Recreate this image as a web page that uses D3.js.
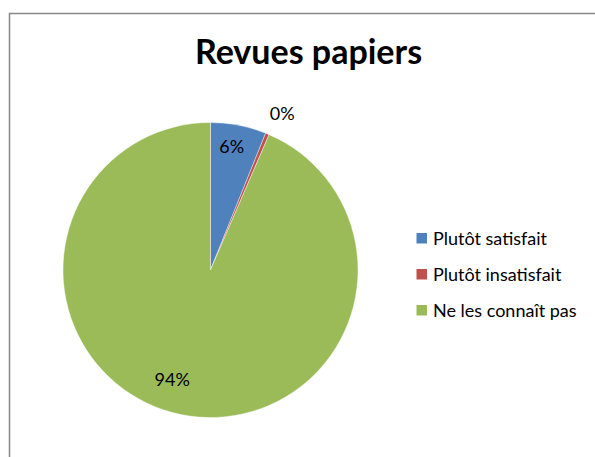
<!DOCTYPE html>
<html>
<head>
<meta charset="utf-8">
<script src="https://cdn.jsdelivr.net/npm/d3@7"></script>
<style>
  html, body { margin: 0; padding: 0; background: #fff; }
  svg { display: block; }
</style>
</head>
<body>
<svg id="chart" width="595" height="457"></svg>
<script>
// Survey answers for paper journals
const categories = ["Plutôt satisfait", "Plutôt insatisfait", "Ne les connaît pas"];
const shares = [6.1, 0.4, 93.5];
const colors = ["#4F81BD", "#C0504D", "#9BBB59"];
const title = "Revues papiers";

const svg = d3.select("#chart");
const W = 595, H = 457;
const fontFamily = "Lato, 'Open Sans', 'DejaVu Sans', sans-serif";

// Chart frame
svg.append("path")
  .attr("d", `M${W},13.5 H9.5 V${H}`)
  .attr("fill", "none")
  .attr("stroke", "#878787")
  .attr("stroke-width", 1.5);

// Title
svg.append("text")
  .attr("x", 308.5)
  .attr("y", 64)
  .attr("text-anchor", "middle")
  .attr("font-family", fontFamily)
  .attr("font-weight", "bold")
  .attr("font-size", 34)
  .attr("fill", "#000")
  .text(title);

// Pie
const cx = 210.5, cy = 270, r = 147.5;
const data = categories.map((c, i) => ({ name: c, value: shares[i], color: colors[i] }));
const total = d3.sum(shares);
const pie = d3.pie().value(d => d.value).sort(null);
const arcs = pie(data);
const arc = d3.arc().innerRadius(0).outerRadius(r);

const g = svg.append("g").attr("transform", `translate(${cx},${cy})`);
g.selectAll("path.slice")
  .data(arcs)
  .enter().append("path")
  .attr("class", "slice")
  .attr("d", arc)
  .attr("fill", d => d.data.color)
  .attr("stroke", "#fff")
  .attr("stroke-width", 0.4);

// Percentage labels: inside for large slices, outside for the tiny one
const fmt = v => Math.round(v / total * 100) + "%";
const labelRadius = [0.86, 1.12, 0.78];
const labelShift = [[-3, 1], [-4, 0], [-15, -3]];
arcs.forEach((a, i) => {
  const mid = (a.startAngle + a.endAngle) / 2;
  const rr = r * labelRadius[i];
  let x = Math.sin(mid) * rr + labelShift[i][0];
  let y = -Math.cos(mid) * rr + labelShift[i][1];
  if (i === 1) { x += 12; y -= 4; }
  g.append("text")
    .attr("x", x)
    .attr("y", y)
    .attr("dy", "0.35em")
    .attr("text-anchor", "middle")
    .attr("font-family", fontFamily)
    .attr("font-size", 18)
    .attr("fill", "#000")
    .text(fmt(a.data.value));
});

// Legend
const legendY = d3.scalePoint().domain(categories).range([238.5, 310.5]);
const leg = svg.append("g");
categories.forEach((c, i) => {
  const y = legendY(c);
  leg.append("rect")
    .attr("x", 416.5).attr("y", y - 5.5)
    .attr("width", 10.5).attr("height", 10.5)
    .attr("fill", colors[i]);
  leg.append("text")
    .attr("x", 433).attr("y", y)
    .attr("dy", "0.35em")
    .attr("font-family", fontFamily)
    .attr("font-size", 18)
    .attr("fill", "#000")
    .text(c);
});
</script>
</body>
</html>
